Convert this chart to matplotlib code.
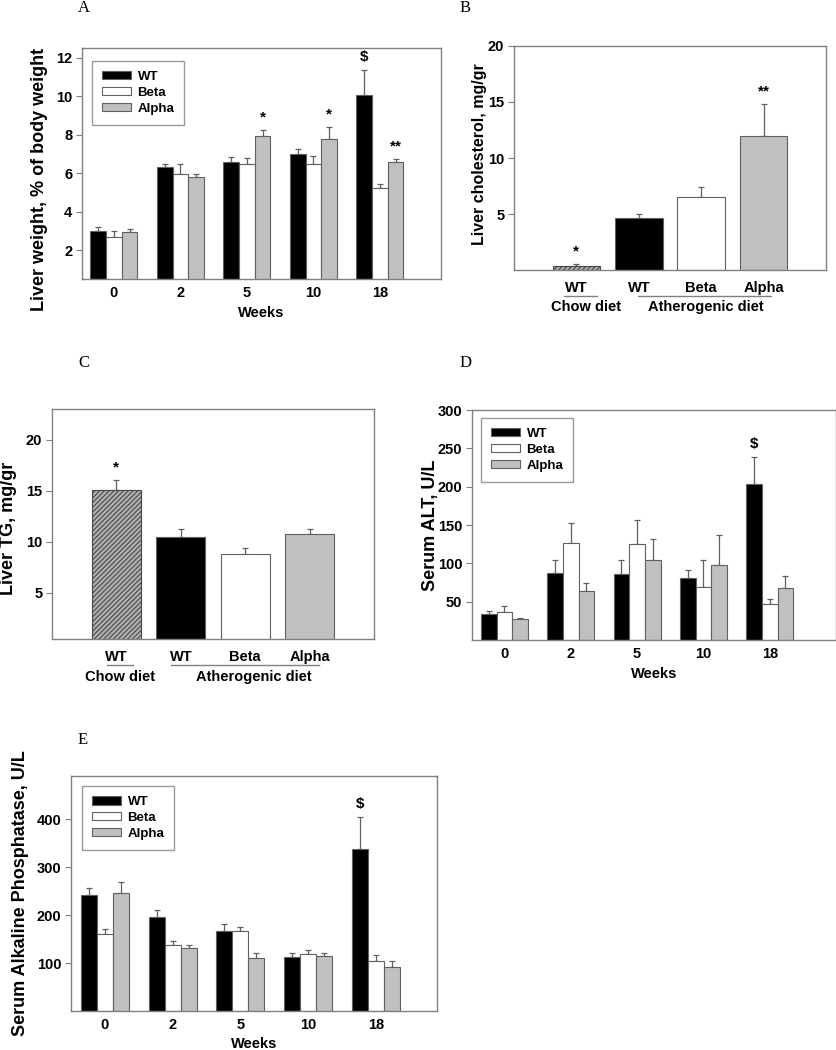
import numpy as np
import matplotlib
matplotlib.use("Agg")
import matplotlib.pyplot as plt

plt.rcParams['font.family'] = ['Liberation Sans', 'DejaVu Sans']
plt.rcParams['font.weight'] = 'bold'
plt.rcParams['axes.labelweight'] = 'bold'
plt.rcParams['hatch.linewidth'] = 0.8

# ---- data ----
weeks = ['0', '2', '5', '10', '18']
groups = ['WT', 'Beta', 'Alpha']

# A: liver weight, % of body weight
a_wt = [2.98, 6.34, 6.58, 7.01, 10.08]
a_wt_err = [0.21, 0.15, 0.26, 0.22, 1.30]
a_beta = [2.69, 5.94, 6.47, 6.47, 5.21]
a_beta_err = [0.29, 0.53, 0.30, 0.42, 0.24]
a_alpha = [2.93, 5.82, 7.92, 7.77, 6.56]
a_alpha_err = [0.17, 0.15, 0.31, 0.62, 0.16]

# B / C: chow WT + atherogenic WT, Beta, Alpha
diet_labels = ['WT', 'WT', 'Beta', 'Alpha']
b_chol = [0.36, 4.60, 6.53, 11.94]
b_chol_err = [0.14, 0.39, 0.89, 2.88]
c_tg = [15.10, 10.52, 8.86, 10.78]
c_tg_err = [0.94, 0.71, 0.52, 0.49]

# D: serum ALT, U/L
d_wt = [33.9, 86.8, 86.4, 80.3, 203.6]
d_wt_err = [3.9, 18.2, 17.8, 11.3, 35.1]
d_beta = [36.0, 126.3, 124.6, 69.0, 47.3]
d_beta_err = [8.7, 26.0, 32.1, 35.2, 5.7]
d_alpha = [27.8, 64.2, 104.2, 97.2, 67.3]
d_alpha_err = [1.2, 9.6, 27.3, 40.0, 16.0]

# E: serum alkaline phosphatase, U/L
e_wt = [241.9, 197.0, 165.9, 112.0, 337.3]
e_wt_err = [15.1, 14.5, 15.9, 9.0, 67.7]
e_beta = [160.4, 138.2, 165.9, 119.6, 105.0]
e_beta_err = [11.6, 8.3, 8.3, 7.6, 11.8]
e_alpha = [246.8, 130.6, 110.6, 114.7, 91.9]
e_alpha_err = [21.4, 6.3, 9.7, 7.0, 13.1]

FILLS = ['black', 'white', '#c0c0c0']
EDGE = '#606060'
W, H = 837, 1050

fig = plt.figure(figsize=(W / 100, H / 100), dpi=100)


def add_ax(left, right, top, bottom):
    return fig.add_axes([left / W, 1 - bottom / H, (right - left) / W, (bottom - top) / H])


def style(ax):
    for s in ax.spines.values():
        s.set_color('#808080')
        s.set_linewidth(1.0)
    ax.tick_params(axis='y', direction='out', length=4, color='#808080',
                   labelsize=10.5, pad=3)
    ax.tick_params(axis='x', length=0, labelsize=10.5, pad=5)


def ylab(ax, text, xc, yc=0.5, size=13):
    ax.set_ylabel(text, fontsize=size)
    ax.yaxis.label.set_verticalalignment('center')
    ax.yaxis.set_label_coords(xc, yc)


def grouped(ax, series, errs, marks, leg_xy):
    x = np.arange(len(weeks))
    bw = 0.236
    for i, (vals, err) in enumerate(zip(series, errs)):
        pos = x + (i - 1) * bw
        ax.bar(pos, vals, bw, color=FILLS[i], edgecolor=EDGE, linewidth=0.8,
               label=groups[i], zorder=2)
        ax.errorbar(pos, vals, yerr=[np.zeros(len(vals)), err], fmt='none',
                    ecolor=EDGE, elinewidth=0.9, capsize=2.5, capthick=0.9, zorder=1)
    for gi, si, txt in marks:
        top = series[si][gi] + errs[si][gi]
        ax.annotate(txt, (x[gi] + (si - 1) * bw, top), xytext=(0, 4),
                    textcoords='offset points', ha='center', va='bottom',
                    fontsize=11, fontweight='bold')
    ax.set_xticks(x)
    ax.set_xticklabels(weeks)
    leg = ax.legend(loc='upper left', fontsize=9.5, frameon=True, fancybox=False,
                    edgecolor='#808080', handlelength=2.2, handleheight=0.6,
                    borderpad=0.75, labelspacing=0.3, handletextpad=0.5,
                    borderaxespad=0, bbox_to_anchor=leg_xy)
    leg.get_frame().set_linewidth(1.0)
    return x


def diet_panel(ax, vals, errs, star_txt, star_idx, chow_line, ath_line, chow_x, ath_x):
    x = np.arange(len(vals))
    for i, (v, e) in enumerate(zip(vals, errs)):
        if i == 0:
            ax.bar(x[i], v, 0.76, color='#b0b0b0', edgecolor='#484848', hatch='///////',
                   linewidth=0.8, zorder=2)
        else:
            ax.bar(x[i], v, 0.76, color=FILLS[i - 1], edgecolor=EDGE, linewidth=0.8, zorder=2)
        ax.errorbar(x[i], v, yerr=[[0], [e]], fmt='none', ecolor=EDGE,
                    elinewidth=0.9, capsize=2.5, capthick=0.9, zorder=1)
    for idx, txt in zip(star_idx, star_txt):
        ax.annotate(txt, (x[idx], vals[idx] + errs[idx]), xytext=(0, 4),
                    textcoords='offset points', ha='center', va='bottom',
                    fontsize=11, fontweight='bold')
    ax.set_xlim(-1, 4)
    ax.set_xticks(x)
    ax.set_xticklabels(diet_labels)
    tr = ax.get_xaxis_transform()
    ax.plot(chow_line, [-0.115, -0.115], transform=tr, color='#808080', lw=1, clip_on=False)
    ax.plot(ath_line, [-0.115, -0.115], transform=tr, color='#808080', lw=1, clip_on=False)
    ax.text(chow_x, -0.165, 'Chow diet', transform=tr, ha='center', va='center', fontsize=10.5)
    ax.text(ath_x, -0.165, 'Atherogenic diet', transform=tr, ha='center', va='center', fontsize=10.5)


def letter(x, y, s):
    fig.text(x / W, 1 - y / H, s, family='Liberation Serif', fontweight='normal',
             fontsize=12, ha='left', va='center')


# ---- A ----
axA = add_ax(82, 441, 48, 279)
grouped(axA, [a_wt, a_beta, a_alpha], [a_wt_err, a_beta_err, a_alpha_err],
        [(2, 2, '*'), (3, 2, '*'), (4, 0, '$'), (4, 2, '**')], (0.028, 0.944))
axA.set_xlim(-0.48, 4.92)
axA.set_ylim(0.5, 12.5)
axA.set_yticks([2, 4, 6, 8, 10, 12])
style(axA)
axA.set_xlabel('Weeks', fontsize=10.5, labelpad=4)
ylab(axA, 'Liver weight, % of body weight', -0.117, 0.433)
letter(78, 8, 'A')

# ---- B ----
axB = add_ax(514, 826, 46, 270)
diet_panel(axB, b_chol, b_chol_err, ['*', '**'], [0, 3],
           [-0.2, 0.33], [0.99, 3.12], 0.15, 2.07)
axB.set_ylim(0, 20)
axB.set_yticks([5, 10, 15, 20])
style(axB)
axB.tick_params(axis='x', pad=8)
ylab(axB, 'Liver cholesterol, mg/gr', -0.109, 0.518, size=11.5)
letter(460, 8, 'B')

# ---- C ----
axC = add_ax(52, 374, 409, 639)
diet_panel(axC, c_tg, c_tg_err, ['*'], [0],
           [-0.15, 0.26], [0.85, 3.15], 0.05, 2.13)
axC.set_ylim(0.5, 23)
axC.set_yticks([5, 10, 15, 20])
style(axC)
axC.tick_params(axis='x', pad=8)
ylab(axC, 'Liver TG, mg/gr', -0.135, 0.483)
letter(78, 363, 'C')

# ---- D ----
axD = add_ax(472, 836, 410, 640)
grouped(axD, [d_wt, d_beta, d_alpha], [d_wt_err, d_beta_err, d_alpha_err],
        [(4, 0, '$')], (0.025, 0.965))
axD.set_xlim(-0.49, 5.0)
axD.set_ylim(0, 300)
axD.set_yticks([50, 100, 150, 200, 250, 300])
style(axD)
axD.set_xlabel('Weeks', fontsize=10.5, labelpad=4)
ylab(axD, 'Serum ALT, U/L', -0.115)
letter(460, 363, 'D')

# ---- E ----
axE = add_ax(71, 437, 776, 1011)
grouped(axE, [e_wt, e_beta, e_alpha], [e_wt_err, e_beta_err, e_alpha_err],
        [(4, 0, '$')], (0.03, 0.957))
axE.set_xlim(-0.5, 4.9)
axE.set_ylim(0, 490)
axE.set_yticks([100, 200, 300, 400])
style(axE)
axE.set_xlabel('Weeks', fontsize=10.5, labelpad=4)
ylab(axE, 'Serum Alkaline Phosphatase, U/L', -0.139)
letter(78, 740, 'E')

fig.savefig('out.png', dpi=100, facecolor='white')
